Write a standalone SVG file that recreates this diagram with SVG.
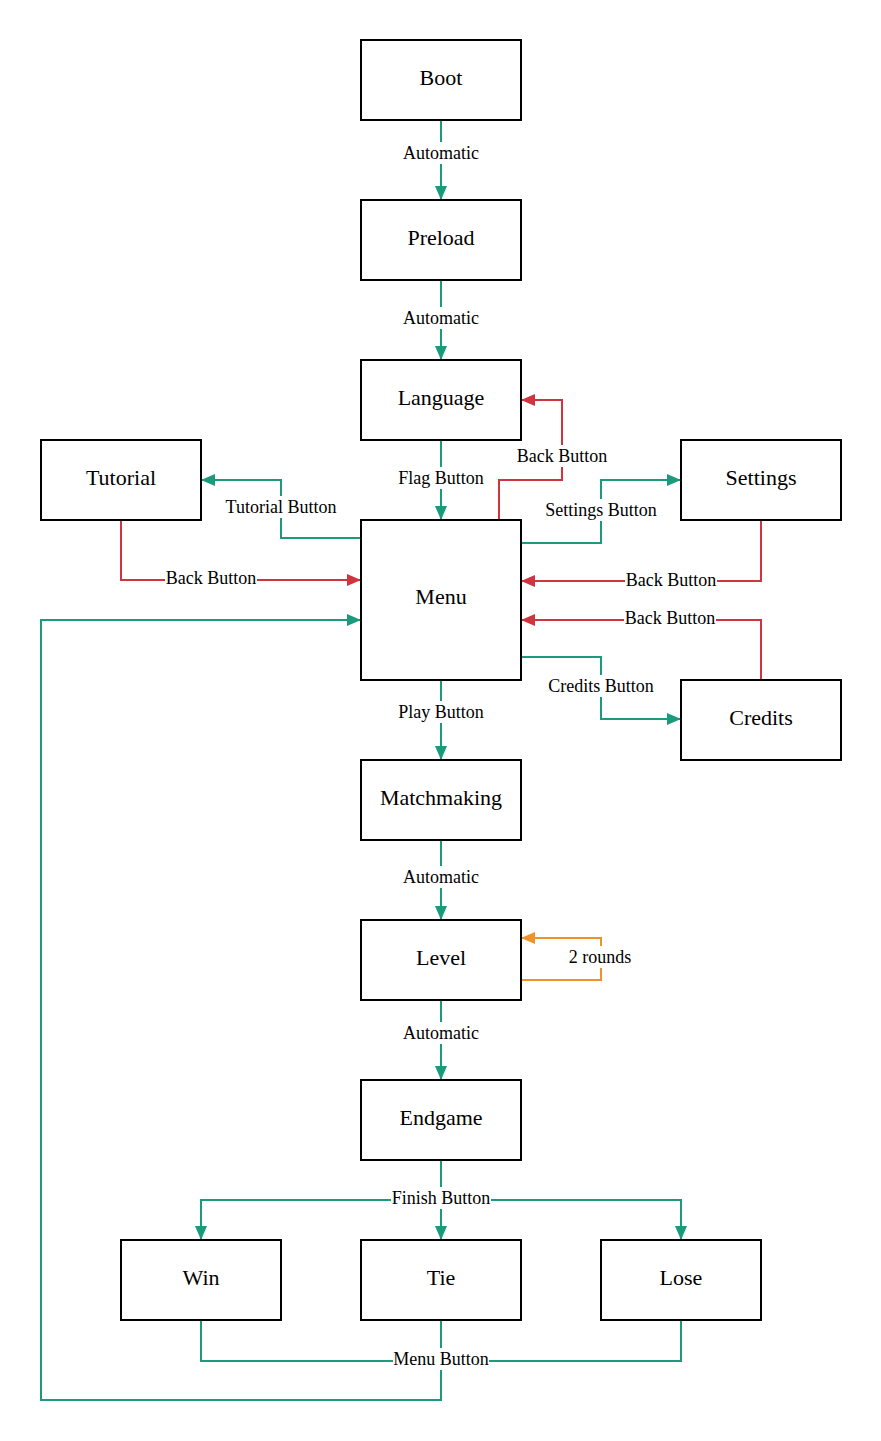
<svg xmlns="http://www.w3.org/2000/svg" width="881" height="1441" viewBox="0 0 881 1441">
<style>
.n{fill:#fff;stroke:#000;stroke-width:2}
.nt{font-family:"Liberation Serif",serif;font-size:22px;text-anchor:middle;dominant-baseline:central;fill:#000}
.lt{font-family:"Liberation Serif",serif;font-size:18px;text-anchor:middle;dominant-baseline:central;fill:#000}
.lb{fill:#fff}
.g{fill:none;stroke:#1b9a7c;stroke-width:2}
.r{fill:none;stroke:#d0343f;stroke-width:2}
.o{fill:none;stroke:#f0922a;stroke-width:2}
</style>
<defs>
<marker id="ag" markerUnits="userSpaceOnUse" markerWidth="14" markerHeight="12" refX="13" refY="6" orient="auto"><path d="M0,0 L14,6 L0,12 Z" fill="#1b9a7c"/></marker>
<marker id="ar" markerUnits="userSpaceOnUse" markerWidth="14" markerHeight="12" refX="13" refY="6" orient="auto"><path d="M0,0 L14,6 L0,12 Z" fill="#d0343f"/></marker>
<marker id="ao" markerUnits="userSpaceOnUse" markerWidth="14" markerHeight="12" refX="13" refY="6" orient="auto"><path d="M0,0 L14,6 L0,12 Z" fill="#f0922a"/></marker>
</defs>
<rect width="881" height="1441" fill="#fff"/>
<g id="connectors">
<path class="g" d="M441,120 V199" marker-end="url(#ag)"/>
<path class="g" d="M441,280 V359" marker-end="url(#ag)"/>
<path class="g" d="M441,440 V519" marker-end="url(#ag)"/>
<path class="g" d="M361,538 H281 V480 H202" marker-end="url(#ag)"/>
<path class="r" d="M499,520 V480 H562 V400 H522" marker-end="url(#ar)"/>
<path class="g" d="M521,543 H601 V480 H680" marker-end="url(#ag)"/>
<path class="r" d="M761,520 V581 H522" marker-end="url(#ar)"/>
<path class="r" d="M121,520 V580 H360" marker-end="url(#ar)"/>
<path class="r" d="M761,680 V620 H522" marker-end="url(#ar)"/>
<path class="g" d="M521,657 H601 V719 H680" marker-end="url(#ag)"/>
<path class="g" d="M441,680 V759" marker-end="url(#ag)"/>
<path class="g" d="M441,840 V919" marker-end="url(#ag)"/>
<path class="o" d="M521,980 H601 V938 H522" marker-end="url(#ao)"/>
<path class="g" d="M441,1000 V1079" marker-end="url(#ag)"/>
<path class="g" d="M441,1160 V1200 H201 V1239" marker-end="url(#ag)"/>
<path class="g" d="M441,1160 V1239" marker-end="url(#ag)"/>
<path class="g" d="M441,1160 V1200 H681 V1239" marker-end="url(#ag)"/>
<path class="g" d="M201,1320 V1361 H441"/>
<path class="g" d="M681,1320 V1361 H441"/>
<path class="g" d="M441,1320 V1400 H41 V620 H360" marker-end="url(#ag)"/>
<rect class="lb" x="402" y="142" width="78" height="22"/><text class="lt" x="441" y="153">Automatic</text>
<rect class="lb" x="402" y="307" width="78" height="22"/><text class="lt" x="441" y="318">Automatic</text>
<rect class="lb" x="398" y="467" width="86" height="22"/><text class="lt" x="441" y="478">Flag Button</text>
<rect class="lb" x="225" y="496" width="112" height="22"/><text class="lt" x="281" y="507">Tutorial Button</text>
<rect class="lb" x="516" y="445" width="92" height="22"/><text class="lt" x="562" y="456">Back Button</text>
<rect class="lb" x="545" y="499" width="112" height="22"/><text class="lt" x="601" y="510">Settings Button</text>
<rect class="lb" x="625" y="569" width="92" height="22"/><text class="lt" x="671" y="580">Back Button</text>
<rect class="lb" x="165" y="567" width="92" height="22"/><text class="lt" x="211" y="578">Back Button</text>
<rect class="lb" x="624" y="607" width="92" height="22"/><text class="lt" x="670" y="618">Back Button</text>
<rect class="lb" x="548" y="675" width="106" height="22"/><text class="lt" x="601" y="686">Credits Button</text>
<rect class="lb" x="398" y="701" width="86" height="22"/><text class="lt" x="441" y="712">Play Button</text>
<rect class="lb" x="402" y="866" width="78" height="22"/><text class="lt" x="441" y="877">Automatic</text>
<rect class="lb" x="568" y="946" width="64" height="22"/><text class="lt" x="600" y="957">2 rounds</text>
<rect class="lb" x="402" y="1022" width="78" height="22"/><text class="lt" x="441" y="1033">Automatic</text>
<rect class="lb" x="391" y="1187" width="100" height="22"/><text class="lt" x="441" y="1198">Finish Button</text>
<rect class="lb" x="393" y="1348" width="96" height="22"/><text class="lt" x="441" y="1359">Menu Button</text>
</g>
<g id="boot"><rect class="n" x="361" y="40" width="160" height="80"/><text class="nt" x="441" y="77">Boot</text></g>
<g id="preload"><rect class="n" x="361" y="200" width="160" height="80"/><text class="nt" x="441" y="237">Preload</text></g>
<g id="language"><rect class="n" x="361" y="360" width="160" height="80"/><text class="nt" x="441" y="397">Language</text></g>
<g id="tutorial"><rect class="n" x="41" y="440" width="160" height="80"/><text class="nt" x="121" y="477">Tutorial</text></g>
<g id="settings"><rect class="n" x="681" y="440" width="160" height="80"/><text class="nt" x="761" y="477">Settings</text></g>
<g id="menu"><rect class="n" x="361" y="520" width="160" height="160"/><text class="nt" x="441" y="596">Menu</text></g>
<g id="credits"><rect class="n" x="681" y="680" width="160" height="80"/><text class="nt" x="761" y="717">Credits</text></g>
<g id="matchmaking"><rect class="n" x="361" y="760" width="160" height="80"/><text class="nt" x="441" y="797">Matchmaking</text></g>
<g id="level"><rect class="n" x="361" y="920" width="160" height="80"/><text class="nt" x="441" y="957">Level</text></g>
<g id="endgame"><rect class="n" x="361" y="1080" width="160" height="80"/><text class="nt" x="441" y="1117">Endgame</text></g>
<g id="win"><rect class="n" x="121" y="1240" width="160" height="80"/><text class="nt" x="201" y="1277">Win</text></g>
<g id="tie"><rect class="n" x="361" y="1240" width="160" height="80"/><text class="nt" x="441" y="1277">Tie</text></g>
<g id="lose"><rect class="n" x="601" y="1240" width="160" height="80"/><text class="nt" x="681" y="1277">Lose</text></g>
</svg>
